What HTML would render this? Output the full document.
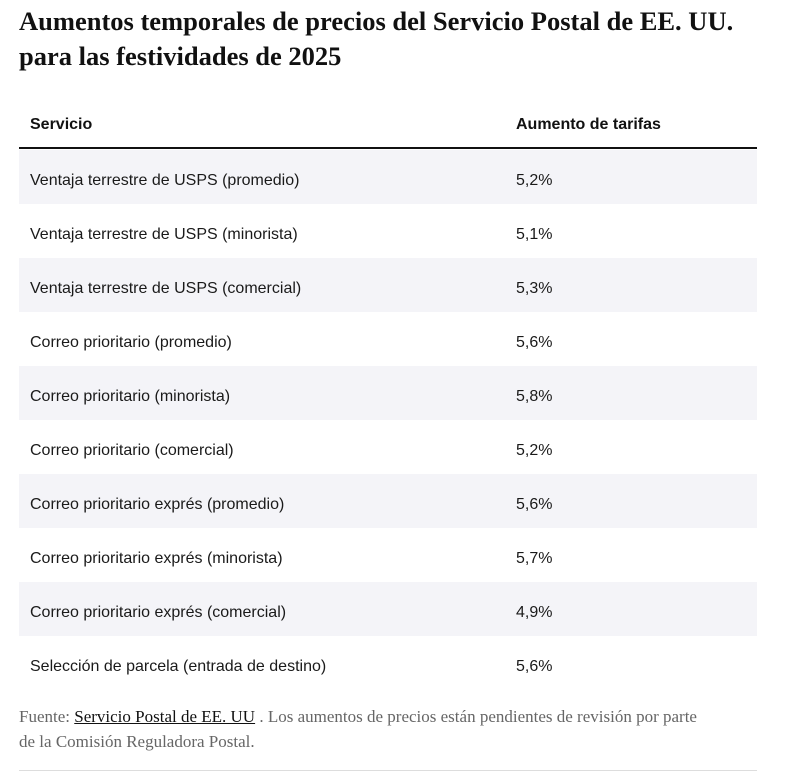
<!DOCTYPE html>
<html><head><meta charset="utf-8"><style>
body{margin:0;width:786px;height:777px;background:#fff;position:relative;overflow:hidden;font-family:"Liberation Sans",sans-serif;color:#1a1a1a}
h1{position:absolute;left:19px;top:4px;margin:0;font:bold 26.5px/35px "Liberation Serif",serif;color:#111;width:740px}
.hdr{position:absolute;top:116px;font-size:16px;font-weight:bold;color:#111}
.hline{position:absolute;left:19px;top:147px;width:738px;height:2px;background:#111}
.row{position:absolute;left:19px;width:738px;height:54px;font-size:16px;line-height:62px}
.row.s{background:#f4f4f8}
.row span{position:absolute}
.c1{left:11px}.c2{left:497px}
.foot{position:absolute;left:19px;top:704px;width:688px;font:17px/25px "Liberation Serif",serif;color:#666}
.foot a{color:#111;text-decoration:underline}
.bline{position:absolute;left:19px;top:770px;width:738px;height:1px;background:#ddd}
</style></head><body>
<h1>Aumentos temporales de precios del Servicio Postal de EE. UU. para las festividades de 2025</h1>
<div class="hdr" style="left:30px">Servicio</div>
<div class="hdr" style="left:516px">Aumento de tarifas</div>
<div class="hline"></div>
<div id="rows"></div>
<div class="foot">Fuente: <a>Servicio Postal de EE. UU</a> . Los aumentos de precios están pendientes de revisión por parte de la Comisión Reguladora Postal.</div>
<div class="bline"></div>
<script>
const services=["Ventaja terrestre de USPS (promedio)","Ventaja terrestre de USPS (minorista)","Ventaja terrestre de USPS (comercial)","Correo prioritario (promedio)","Correo prioritario (minorista)","Correo prioritario (comercial)","Correo prioritario exprés (promedio)","Correo prioritario exprés (minorista)","Correo prioritario exprés (comercial)","Selección de parcela (entrada de destino)"];
const increases=["5,2%","5,1%","5,3%","5,6%","5,8%","5,2%","5,6%","5,7%","4,9%","5,6%"];
const body=document.getElementById('rows');
services.forEach((s,i)=>{
  const r=document.createElement('div');
  r.className='row'+(i%2===0?' s':'');
  r.style.top=(150+i*54)+'px';
  
  
  const a=document.createElement('span');a.className='c1';a.textContent=s;
  
  
  const b=document.createElement('span');b.className='c2';b.textContent=increases[i];
  
  
  r.appendChild(a);r.appendChild(b);body.appendChild(r);
});
</script>
</body></html>
